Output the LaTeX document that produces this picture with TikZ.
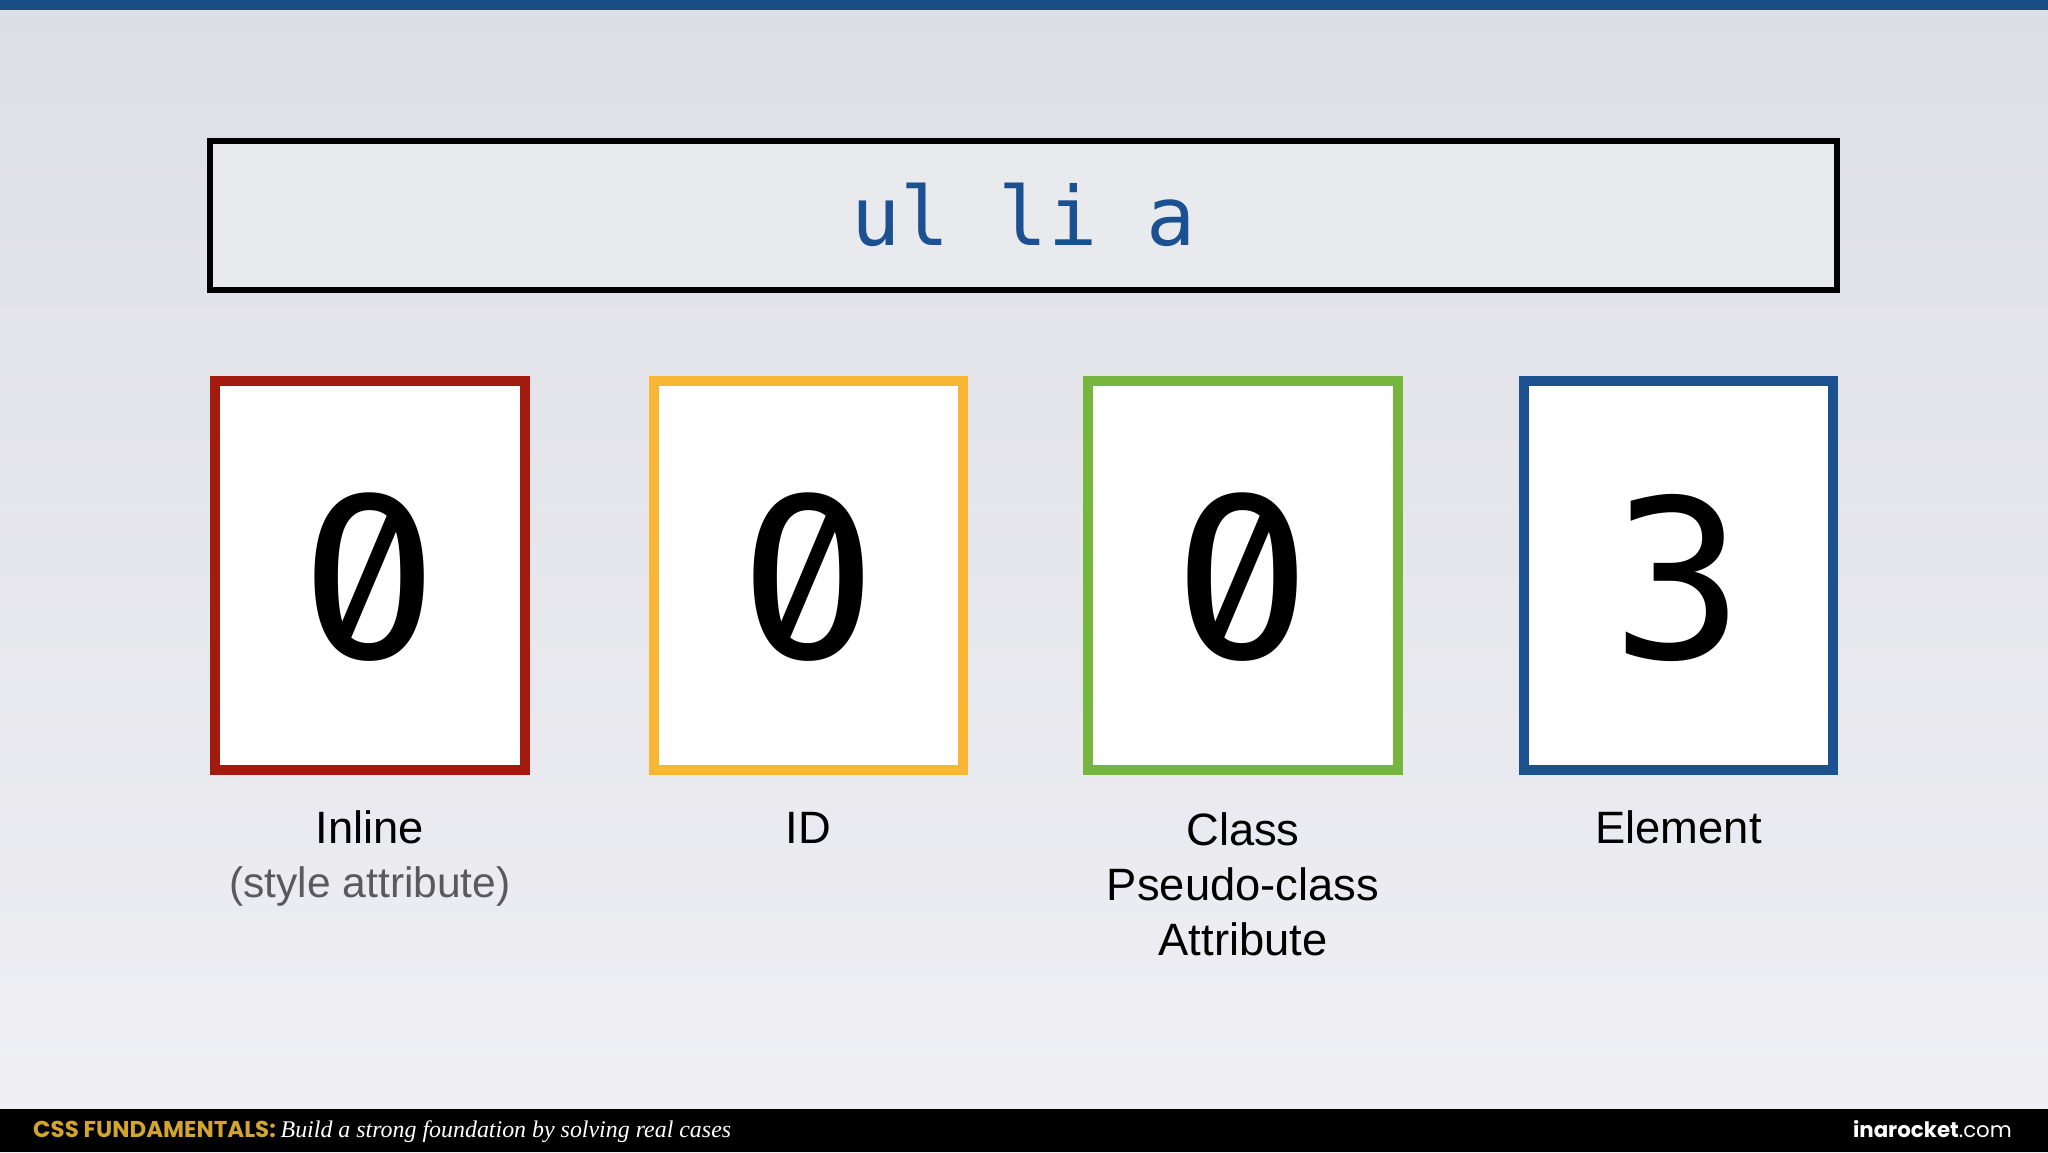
\documentclass[tikz,border=0pt]{standalone}
\usepackage{fontspec}
\setmainfont{Liberation Sans}
\newfontfamily\monof{DejaVu Sans Mono}
\newfontfamily\zerof[RawFeature=+zero]{Fira Sans}
\newfontfamily\footsans{Poppins}
\newfontfamily\footserif{Liberation Serif}
\definecolor{bgtop}{HTML}{DEDFE5}
\definecolor{bgbot}{HTML}{EFEFF4}
\definecolor{barblue}{HTML}{1A4C86}
\definecolor{titleblue}{HTML}{1B5091}
\definecolor{titlefill}{HTML}{E9EAEE}
\definecolor{cred}{HTML}{A31A0E}
\definecolor{cyellow}{HTML}{F8B632}
\definecolor{cgreen}{HTML}{76B53E}
\definecolor{cblue}{HTML}{1C5190}
\definecolor{gold}{HTML}{D2A52E}
\definecolor{subgray}{HTML}{5A5A5E}
\begin{document}
\begin{tikzpicture}[x=1bp,y=-1bp,
  scorebox/.style={draw=#1,line width=10bp,fill=white},
  digit/.style={anchor=base,inner sep=0,font=\monof\fontsize{222}{222}\selectfont,text=black},
  zdigit/.style={digit,font=\zerof\fontsize{245}{245}\selectfont},
  lbl/.style={anchor=base,inner sep=0,font=\fontsize{45.5}{45.5}\selectfont,text=black},
  sublbl/.style={lbl,font=\fontsize{42.7}{42.7}\selectfont,text=subgray}]
\useasboundingbox (0,0) rectangle (2048,1152);
\shade[top color=bgtop,bottom color=bgbot] (0,0) rectangle (2048,1152);
\fill[barblue] (0,0) rectangle (2048,10);
\fill[black] (0,1109) rectangle (2048,1152);
% title box
\draw[line width=6bp,fill=titlefill] (210,141) rectangle (1837,290);
\node[anchor=base,inner sep=0,text=titleblue,font=\monof\fontsize{82}{82}\selectfont] (title) at (1023.5,245) {ul li a};
% score boxes
\draw[scorebox=cred] (215,381) rectangle (525,770);
\draw[scorebox=cyellow] (654,381) rectangle (963,770);
\draw[scorebox=cgreen] (1088,381) rectangle (1398,770);
\draw[scorebox=cblue] (1524,381) rectangle (1833,770);
\node[zdigit] (d1) at (370,658) {0};
\node[zdigit] (d2) at (808.5,658) {0};
\node[zdigit] (d3) at (1243,658) {0};
\node[digit] (d4) at (1678.5,658) {3};
% labels
\node[lbl] (l1a) at (370,843) {Inline};
\node[sublbl] (l1b) at (370,897) {(style attribute)};
\node[lbl] (l2a) at (808.5,843) {ID};
\node[lbl] (l3a) at (1243,845) {Class};
\node[lbl] (l3b) at (1243,900) {Pseudo-class};
\node[lbl] (l3c) at (1243,955) {Attribute};
\node[lbl] (l4a) at (1678.5,843) {Element};
% footer
\node[anchor=base west,inner sep=0] (foot) at (33,1137) {\footsans\fontsize{23}{23}\selectfont\bfseries\color{gold}CSS FUNDAMENTALS:\ \footserif\itshape\mdseries\fontsize{24}{24}\selectfont\color{white}Build a strong foundation by solving real cases};
\node[anchor=base east,inner sep=0,text=white] (brand) at (2012,1137) {\footsans\fontsize{21.4}{21.4}\selectfont\bfseries inarocket\mdseries .com};
\end{tikzpicture}
\end{document}
